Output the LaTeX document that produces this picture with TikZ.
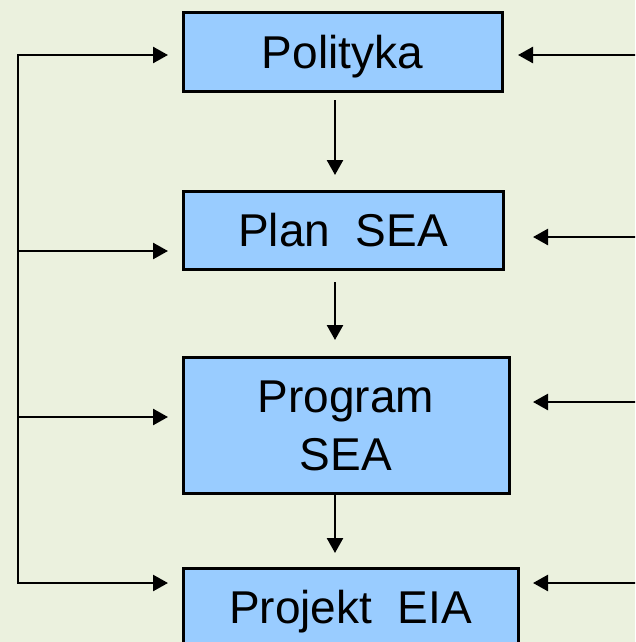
\documentclass[tikz,border=0pt]{standalone}
\usepackage{fontspec}
\setmainfont{Liberation Sans}
\usetikzlibrary{arrows.meta,positioning}
\definecolor{tlo}{HTML}{EBF1DE}
\definecolor{blok}{HTML}{99CCFF}
\tikzset{
	box/.style={draw, line width=3pt, fill=blok, outer sep=0pt, inner sep=0pt,
		font=\fontsize{46}{58}\selectfont, align=center, text height=33pt, text depth=0pt},
	arr/.style={-{Triangle[length=15pt,width=16pt]}, line width=2.5pt}
}
\begin{document}
\begin{tikzpicture}[x=1pt,y=-1pt]

	\fill[tlo] (0,0) rectangle (635,642);
	\clip (0,0) rectangle (635,642);

	\node[box, minimum width=319pt, minimum height=78pt] (1) at (342.5,52) {Polityka};
	\node[box, minimum width=320pt, minimum height=78pt] (2) at (343,230) {Plan~~SEA};
	\node[box, minimum width=326pt, minimum height=136pt, text height=91pt] (3) at (346,425) {Program\\SEA};
	\node[box, minimum width=335pt, minimum height=77pt] (4) at (350.5,606.5) {Projekt~~EIA};

	\coordinate (v) at (335,0);
	\draw[arr, shorten <=9pt, shorten >=16pt] (1.south -| v) -- (2.north -| v);
	\draw[arr, shorten <=13pt, shorten >=17pt] (2.south -| v) -- (3.north -| v);
	\draw[arr, shorten >=15pt] (3.south -| v) -- (4.north -| v);

	% left side
	\coordinate (l1) at (18,55);
	\coordinate (l2) at (18,251);
	\coordinate (l3) at (18,417);
	\coordinate (l4) at (18,583);
	\draw[arr, shorten >=15pt] (l4) -- (l1) -- (1.west |- l1);
	\draw[arr, shorten >=15pt] (l1) -- (l4) -- (4.west |- l4);
	\draw[arr, shorten >=15pt] (l2) -- (2.west |- l2);
	\draw[arr, shorten >=15pt] (l3) -- (3.west |- l3);

	% right side
	\coordinate (r1) at (636,55);
	\coordinate (r2) at (636,237);
	\coordinate (r3) at (636,402);
	\coordinate (r4) at (636,583);
	\draw[arr, shorten >=16pt] (r1) -- (1.east |- r1);
	\draw[arr, shorten >=30pt] (r2) -- (2.east |- r2);
	\draw[arr, shorten >=24pt] (r3) -- (3.east |- r3);
	\draw[arr, shorten >=15pt] (r4) -- (4.east |- r4);

\end{tikzpicture}
\end{document}
